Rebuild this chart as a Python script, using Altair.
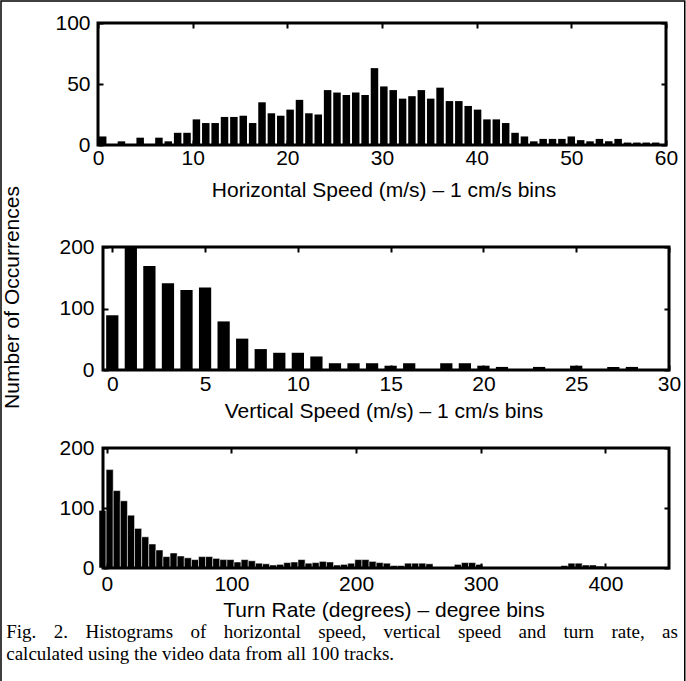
import altair as alt
import pandas as pd

# ---------------- data ----------------
HS_BIN = 0.99
HS_COUNTS = [7, 0, 3, 0, 6, 0, 6, 3, 10, 10, 21, 18, 18, 23, 23, 24, 18, 35, 26, 24,
             29, 37, 26, 25, 45, 43, 41, 43, 41, 63, 48, 45, 38, 40, 45, 38, 47, 36, 36, 32,
             29, 21, 21, 18, 10, 7, 3, 5, 5, 5, 7, 4, 3, 5, 3, 5, 2, 2, 2, 2]

VS_CENTERS = list(range(30))
VS_COUNTS = [89, 215, 169, 141, 130, 134, 79, 51, 34, 28, 28, 22, 11, 11, 11, 7, 11, 0, 11, 11,
             7, 5, 0, 5, 0, 7, 0, 5, 5, 0]

TR_BIN = 5.7
TR_START = -6.2
TR_COUNTS = [96, 164, 129, 112, 88, 66, 52, 40, 30, 19, 25, 20, 17, 14, 19, 19, 16, 14, 14, 10,
             14, 12, 8, 7, 5, 6, 9, 10, 14, 8, 9, 11, 10, 5, 6, 8, 14, 14, 11, 9,
             8, 4, 4, 8, 8, 8, 7, 0, 0, 0, 6, 9, 9, 6, 0, 0, 0, 0, 0, 0,
             0, 0, 0, 0, 0, 4, 8, 8, 5, 5, 3, 0, 0, 0, 0, 0, 0, 0, 0, 0, 0]

HS_XTICKS = [0, 10, 20, 30, 40, 50, 60]
HS_YTICKS = [0, 50, 100]
VS_XTICKS = [0, 5, 10, 15, 20, 25, 30]
VS_YTICKS = [0, 100, 200]
TR_XTICKS = [0, 100, 200, 300, 400]
TR_YTICKS = [0, 100, 200]

TITLE_HS = "Horizontal Speed (m/s) \u2013 1 cm/s bins"
TITLE_VS = "Vertical Speed (m/s) \u2013 1 cm/s bins"
TITLE_TR = "Turn Rate (degrees) \u2013 degree bins"
Y_TITLE = "Number of Occurrences"
CAPTION_1 = "Fig. 2.  Histograms of horizontal speed, vertical speed and turn rate, as"
CAPTION_2 = "calculated using the video data from all 100 tracks."

# ---------------- tables ----------------
hs_centers = [(k + 0.5) * HS_BIN for k in range(len(HS_COUNTS))]
hs_df = pd.DataFrame({"c": hs_centers, "count": HS_COUNTS})
hs_df["x0"] = hs_df["c"] - 0.4 * HS_BIN
hs_df["x1"] = hs_df["c"] + 0.4 * HS_BIN
hs_df["base"] = 0

vs_df = pd.DataFrame({"c": VS_CENTERS, "count": VS_COUNTS})
vs_df["x0"] = vs_df["c"] - 0.33
vs_df["x1"] = vs_df["c"] + 0.33
vs_df["base"] = 0

tr_df = pd.DataFrame({"i": list(range(len(TR_COUNTS))), "count": TR_COUNTS})
tr_df["x0"] = TR_START + tr_df["i"] * TR_BIN
tr_df["x1"] = tr_df["x0"] + TR_BIN
tr_df["base"] = 0

# ---------------- style ----------------
FONT = "Liberation Sans"
SERIF = "Liberation Serif"
FS = 21
TICK = 5
W = 571
H1, H2, H3 = 122, 123, 120


def bottom_axis(values, title, label_pad, title_y):
    return alt.Axis(orient="bottom", values=values, offset=-TICK, tickSize=TICK, tickWidth=2,
                    tickColor="black", domain=False, grid=False, labelFont=FONT,
                    labelFontSize=FS, labelColor="black", labelPadding=label_pad,
                    labelFlush=False, labelOverlap=False, format="d",
                    title=title, titleFont=FONT, titleFontSize=FS, titleFontWeight="normal",
                    titleColor="black", titleY=title_y, titleBaseline="middle", zindex=2)


def top_axis(values):
    return alt.Axis(orient="top", values=values, offset=-TICK, tickSize=TICK, tickWidth=2,
                    tickColor="black", domain=False, grid=False, labels=False, title=None,
                    zindex=2)


def left_axis(values, offset, pad, title=None, title_x=0, title_y=0):
    kw = dict(orient="left", values=values, offset=offset, tickSize=TICK, tickWidth=2,
              tickColor="black", domain=False, grid=False, labelFont=FONT, labelFontSize=FS,
              labelColor="black", labelPadding=pad, labelFlush=False, labelOverlap=False,
              format="d", zindex=2)
    if title:
        kw.update(title=title, titleFont=FONT, titleFontSize=FS, titleFontWeight="normal",
                  titleColor="black", titleX=title_x, titleY=title_y, titleAngle=270,
                  titleAlign="center", titleBaseline="middle")
    else:
        kw.update(title=None)
    return alt.Axis(**kw)


def right_axis(values, offset):
    return alt.Axis(orient="right", values=values, offset=offset, tickSize=TICK, tickWidth=2,
                    tickColor="black", domain=False, grid=False, labels=False, title=None,
                    zindex=2)


def frame(fx0, fx1, h):
    return alt.Chart(pd.DataFrame({"f": [0]})).mark_rect(
        fillOpacity=0, stroke="black", strokeWidth=3
    ).encode(x=alt.value(fx0), x2=alt.value(fx1), y=alt.value(0), y2=alt.value(h))


def panel(df, a, b, fx0, fx1, ydom, xticks, yticks, title, h, label_pad, ypad, title_y,
          clip, bar_stroke=False, ytitle=None, extra=()):
    # value a sits on the frame's left edge (fx0), value b on its right edge (fx1)
    per_px = (b - a) / (fx1 - fx0)
    xdom = [a - fx0 * per_px, b + (W - fx1) * per_px]
    xs = alt.Scale(domain=xdom, nice=False, zero=False)
    ys = alt.Scale(domain=ydom, nice=False, zero=False)
    mk = dict(color="black", clip=clip)
    if bar_stroke:
        mk.update(stroke="white", strokeWidth=0.5)
    loff = -(fx0 + TICK)
    roff = -(W - fx1 + TICK)
    # axis group sits at x = -loff; title wanted at x = -85.75 in plot coords
    yax = (left_axis(yticks, loff, ypad, ytitle, -85.75 + loff, 50)
           if ytitle else left_axis(yticks, loff, ypad))
    bars = alt.Chart(df).transform_filter("datum.count > 0").mark_bar(**mk).encode(
        x=alt.X("x0:Q", scale=xs, axis=bottom_axis(xticks, title, label_pad, title_y)),
        x2="x1:Q",
        y=alt.Y("count:Q", scale=ys, axis=yax),
        y2="base:Q",
    )
    ticks = alt.Chart(df).mark_point(opacity=0).encode(
        x=alt.X("x0:Q", scale=xs, axis=top_axis(xticks)),
        y=alt.Y("count:Q", scale=ys, axis=right_axis(yticks, roff)),
    )
    return alt.layer(bars, ticks, frame(fx0, fx1, h), *extra) \
        .resolve_axis(x="independent", y="independent") \
        .properties(width=W, height=h)


def spacer(h):
    return alt.Chart(pd.DataFrame({"s": [0]})).mark_point(opacity=0).encode(
        x=alt.X("s:Q", axis=None), y=alt.Y("s:Q", axis=None)
    ).properties(width=W, height=h)


border = alt.Chart(pd.DataFrame({"a": [0]})).mark_rect(
    fillOpacity=0, stroke="black", strokeWidth=1.5
).encode(x=alt.value(-97), x2=alt.value(586.75), y=alt.value(-22), y2=alt.value(660))

GAP = "\u2002\u2005\u2006"
cap1 = GAP.join(CAPTION_1.split())
cap_df = pd.DataFrame({"t": [cap1, CAPTION_2], "row": [0, 1]})
CAP_FS = 19
cap_l1 = alt.Chart(cap_df.iloc[[0]]).mark_text(
    font=SERIF, fontSize=CAP_FS, color="black", align="left", baseline="alphabetic"
).encode(text="t:N", x=alt.value(-91.75), y=alt.value(190))
cap_l2 = alt.Chart(cap_df.iloc[[1]]).mark_text(
    font=SERIF, fontSize=CAP_FS, color="black", align="left", baseline="alphabetic"
).encode(text="t:N", x=alt.value(-91.75), y=alt.value(212))

p1 = panel(hs_df, 0, 60, 0, 568, [0, 100], HS_XTICKS, HS_YTICKS, TITLE_HS, H1, 2, 8, 50,
           False, extra=(border,))
p2 = panel(vs_df, -0.5, 30, 5, 571, [0, 200], VS_XTICKS, VS_YTICKS, TITLE_VS, H2, 3, 9, 46,
           True, ytitle=Y_TITLE)
p3 = panel(tr_df, -3, 451, 5, 571, [0, 200], TR_XTICKS, TR_YTICKS, TITLE_TR, H3, 5, 9, 47,
           False, bar_stroke=True, extra=(cap_l1, cap_l2))

chart = alt.vconcat(p1, spacer(102), p2, spacer(78), p3, spacing=0, bounds="flush") \
    .properties(padding=0, background="white") \
    .configure_view(strokeWidth=0, stroke="transparent")

chart.save("out.html", embed_options={"renderer": "svg", "actions": False})
